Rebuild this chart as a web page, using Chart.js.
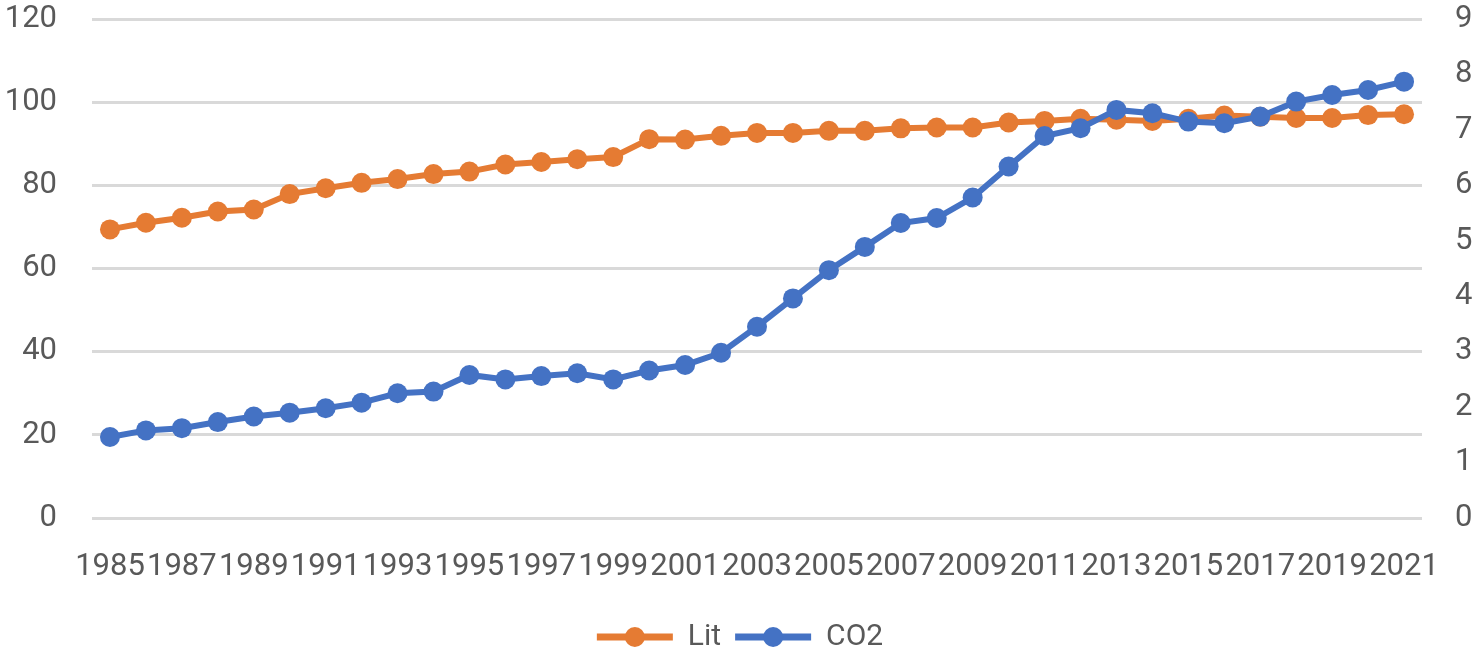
<!DOCTYPE html>
<html>
<head>
<meta charset="utf-8">
<script src="https://cdn.jsdelivr.net/npm/chart.js@4/dist/chart.umd.min.js"></script>
<style>
  html, body { margin: 0; padding: 0; background: #ffffff; }
  #wrap { width: 1480px; height: 658px; }
</style>
</head>
<body>
<div id="wrap"><canvas id="c" width="1480" height="658"></canvas></div>
<script>
const years = [1985,1986,1987,1988,1989,1990,1991,1992,1993,1994,1995,1996,1997,1998,1999,2000,2001,2002,2003,2004,2005,2006,2007,2008,2009,2010,2011,2012,2013,2014,2015,2016,2017,2018,2019,2020,2021];
const litValues = [69.4,71.0,72.2,73.7,74.2,77.9,79.3,80.6,81.5,82.7,83.3,85.0,85.6,86.3,86.8,91.1,91.0,91.9,92.6,92.6,93.1,93.1,93.7,93.9,93.9,95.1,95.5,96.0,95.8,95.5,96.0,96.8,96.5,96.2,96.2,96.9,97.1];
const co2Values = [1.46,1.58,1.62,1.73,1.83,1.90,1.98,2.08,2.25,2.28,2.58,2.50,2.56,2.61,2.50,2.66,2.76,2.98,3.45,3.96,4.47,4.89,5.32,5.41,5.78,6.34,6.89,7.03,7.36,7.30,7.15,7.12,7.24,7.51,7.63,7.72,7.87];
const seriesNames = ['Lit', 'CO2'];
const leftAxis = { min: 0, max: 120, step: 20 };
const rightAxis = { min: 0, max: 9, step: 1 };

const ORANGE = '#E57B33';
const BLUE = '#4472C4';
const TEXT = '#595959';
const FONT = 'Roboto, "Open Sans", sans-serif';

Chart.defaults.font.family = FONT;
Chart.defaults.color = TEXT;

const legendDots = {
  id: 'legendDots',
  afterDraw(chart) {
    const lg = chart.legend;
    if (!lg || !lg.legendHitBoxes) return;
    const ctx = chart.ctx;
    const bw = lg.options.labels.boxWidth;
    lg.legendHitBoxes.forEach((hb, i) => {
      const item = lg.legendItems[i];
      ctx.save();
      ctx.fillStyle = item.fillStyle;
      ctx.beginPath();
      ctx.arc(hb.left + bw / 2, hb.top + hb.height / 2, 10, 0, Math.PI * 2);
      ctx.fill();
      ctx.restore();
    });
  }
};

function fixVertical(width) {
  return function (s) {
    s.width = width;
    s.paddingTop = 0;
    s.paddingBottom = 0;
  };
}

new Chart(document.getElementById('c'), {
  type: 'line',
  data: {
    labels: years,
    datasets: [
      {
        label: seriesNames[0],
        data: litValues,
        yAxisID: 'yL',
        borderColor: ORANGE,
        backgroundColor: ORANGE,
        borderWidth: 6,
        pointRadius: 10,
        pointBorderWidth: 0,
        pointBackgroundColor: ORANGE,
        tension: 0,
        order: 2
      },
      {
        label: seriesNames[1],
        data: co2Values,
        yAxisID: 'yR',
        borderColor: BLUE,
        backgroundColor: BLUE,
        borderWidth: 6,
        pointRadius: 10,
        pointBorderWidth: 0,
        pointBackgroundColor: BLUE,
        tension: 0,
        order: 1
      }
    ]
  },
  options: {
    responsive: false,
    animation: false,
    devicePixelRatio: 1,
    layout: { padding: { top: 19, left: 0, right: 0, bottom: -4 } },
    plugins: {
      tooltip: { enabled: false },
      legend: {
        position: 'bottom',
        labels: {
          font: { size: 30, family: FONT },
          color: TEXT,
          boxWidth: 76,
          boxHeight: 7,
          padding: 14,
          sort: (a, b) => a.datasetIndex - b.datasetIndex,
          generateLabels(chart) {
            const items = Chart.defaults.plugins.legend.labels.generateLabels(chart);
            return items.map(it => {
              const ds = chart.data.datasets[it.datasetIndex];
              it.fillStyle = ds.borderColor;
              it.strokeStyle = ds.borderColor;
              it.lineWidth = 0;
              return it;
            });
          }
        }
      }
    },
    scales: {
      x: {
        type: 'category',
        offset: true,
        grid: { display: false },
        border: { display: false },
        ticks: {
          autoSkip: false,
          maxRotation: 0,
          minRotation: 0,
          padding: 23,
          font: { size: 31, family: FONT },
          color: TEXT,
          callback: (v, i) => (i % 2 === 0 ? String(years[i]) : '')
        },
        afterFit(s) { s.height = 90; }
      },
      yL: {
        position: 'left',
        min: leftAxis.min,
        max: leftAxis.max,
        grid: { color: '#D9D9D9', lineWidth: 3, drawTicks: false },
        border: { display: false },
        ticks: {
          stepSize: leftAxis.step,
          padding: 35,
          font: { size: 31, family: FONT },
          color: TEXT
        },
        afterFit: fixVertical(92)
      },
      yR: {
        position: 'right',
        min: rightAxis.min,
        max: rightAxis.max,
        grid: { drawOnChartArea: false, drawTicks: false },
        border: { display: false },
        ticks: {
          stepSize: rightAxis.step,
          padding: 33,
          font: { size: 31, family: FONT },
          color: TEXT
        },
        afterFit: fixVertical(58)
      }
    }
  },
  plugins: [legendDots]
});
</script>
</body>
</html>
